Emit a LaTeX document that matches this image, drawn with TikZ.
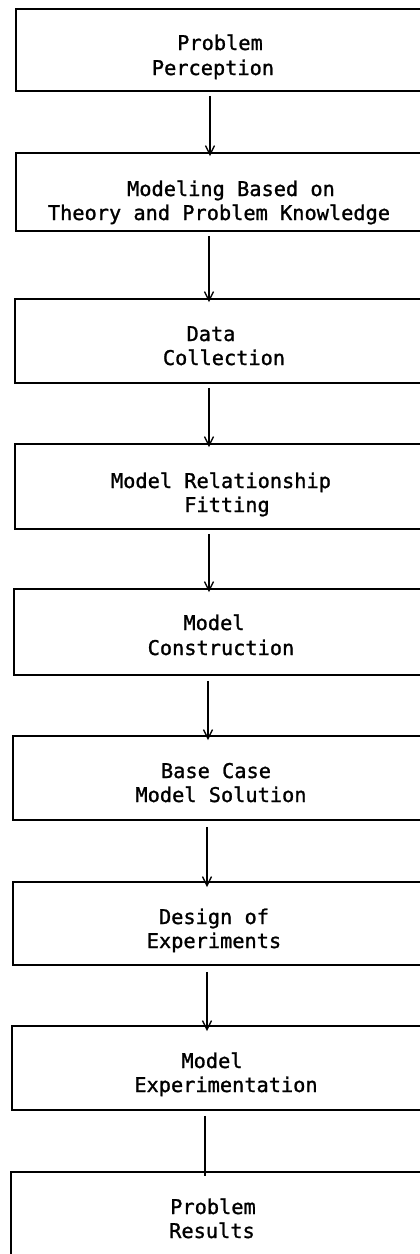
\documentclass[tikz,border=0pt]{standalone}
\usepackage{fontspec}
\newfontfamily\typer[FakeBold=1.2]{DejaVu Sans Mono}
\usetikzlibrary{arrows.meta}

\begin{document}
\begin{tikzpicture}[x=1pt, y=-1pt,
  stage/.style={draw, line width=1.8pt, anchor=north west, inner sep=0pt,
                minimum width=430pt, fill=none},
  line/.style={anchor=base, inner sep=0pt, font=\typer\fontsize{20.3}{24}\selectfont},
  flow/.style={line width=1.4pt, -{Straight Barb[length=9pt,width=9pt,line width=1.3pt]}},
  plain/.style={line width=1.4pt}]

% page frame; the boxes run off its right edge
\path[use as bounding box, clip] (0,0) rectangle (420,1254);

% process stages
\node[stage, minimum height=82pt] (b1) at (15,8)    {};
\node[stage, minimum height=78pt] (b2) at (15,152)  {};
\node[stage, minimum height=84pt] (b3) at (14,298)  {};
\node[stage, minimum height=85pt] (b4) at (14,443)  {};
\node[stage, minimum height=86pt] (b5) at (13,588)  {};
\node[stage, minimum height=84pt] (b6) at (12,735)  {};
\node[stage, minimum height=83pt] (b7) at (12,881)  {};
\node[stage, minimum height=84pt] (b8) at (11,1025) {};
\node[stage, minimum height=110pt] (b9) at (10,1171) {};

% stage titles, one typed line each
\node[line] (t1a) at (220,50)   {Problem};
\node[line] (t1b) at (213,75)   {Perception};
\node[line] (t2a) at (231,196)  {Modeling Based on};
\node[line] (t2b) at (219,220)  {Theory and Problem Knowledge};
\node[line] (t3a) at (211,341)  {Data};
\node[line] (t3b) at (224,365)  {Collection};
\node[line] (t4a) at (221,488)  {Model Relationship};
\node[line] (t4b) at (227,512)  {Fitting};
\node[line] (t5a) at (214,630)  {Model};
\node[line] (t5b) at (221,655)  {Construction};
\node[line] (t6a) at (216,778)  {Base Case};
\node[line] (t6b) at (221,802)  {Model Solution};
\node[line] (t7a) at (214,924)  {Design of};
\node[line] (t7b) at (214,948)  {Experiments};
\node[line] (t8a) at (212,1068) {Model};
\node[line] (t8b) at (226,1092) {Experimentation};
\node[line] (t9a) at (213,1214) {Problem};
\node[line] (t9b) at (212,1238) {Results};

% connectors between consecutive stages
\draw[flow]  ([shift={(195pt,-4pt)}]b1.south west) -- ([shift={(195pt,-4pt)}]b1.south west |- b2.north);
\draw[flow]  ([shift={(194pt,-4pt)}]b2.south west) -- ([shift={(194pt,-4pt)}]b2.south west |- b3.north);
\draw[flow]  ([shift={(195pt,-4pt)}]b3.south west) -- ([shift={(195pt,-4pt)}]b3.south west |- b4.north);
\draw[flow]  ([shift={(195pt,-4pt)}]b4.south west) -- ([shift={(195pt,-4pt)}]b4.south west |- b5.north);
\draw[flow]  ([shift={(195pt,-5pt)}]b5.south west) -- ([shift={(195pt,-5pt)}]b5.south west |- b6.north);
\draw[flow]  ([shift={(195pt,-6pt)}]b6.south west) -- ([shift={(195pt,-6pt)}]b6.south west |- b7.north);
\draw[flow]  ([shift={(195pt,-6pt)}]b7.south west) -- ([shift={(195pt,-6pt)}]b7.south west |- b8.north);
\draw[plain] ([shift={(194pt,-5pt)}]b8.south west) -- ([shift={(194pt,-5pt)}]b8.south west |- b9.north);
\end{tikzpicture}
\end{document}
